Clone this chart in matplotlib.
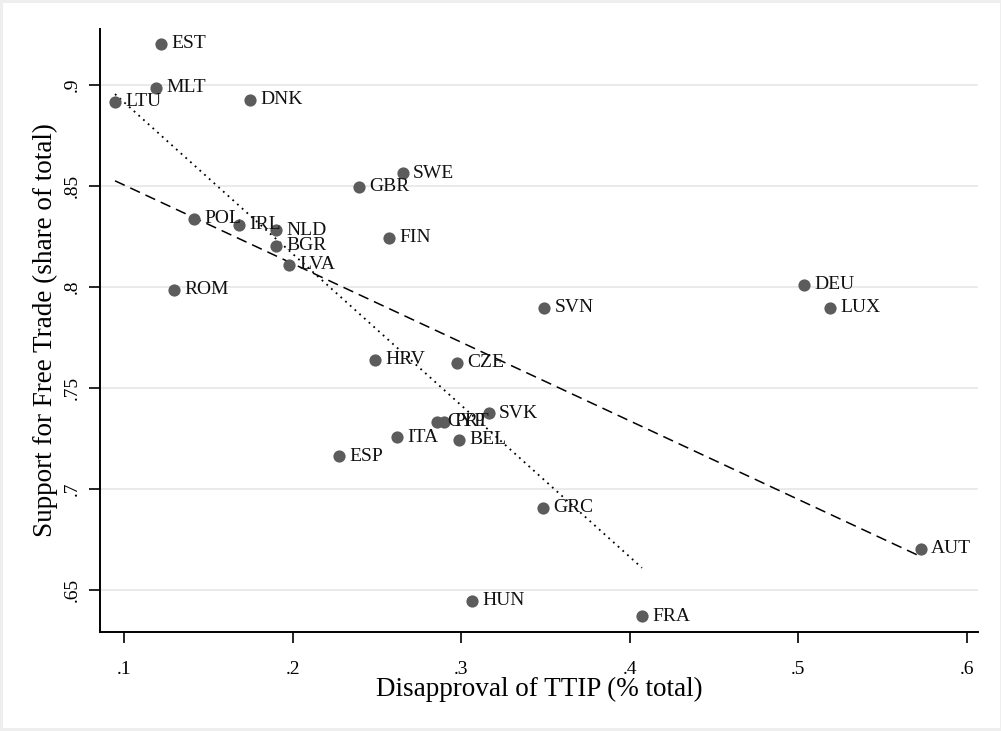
import numpy as np
import matplotlib
matplotlib.use("Agg")
import matplotlib.pyplot as plt
from matplotlib.patches import Rectangle

countries = ["EST", "MLT", "LTU", "DNK", "SWE", "GBR", "POL", "IRL", "NLD", "BGR",
             "LVA", "FIN", "ROM", "DEU", "LUX", "SVN", "HRV", "CZE", "SVK", "CYP",
             "PRT", "ITA", "BEL", "ESP", "GRC", "AUT", "HUN", "FRA"]
disapproval = [0.122, 0.119, 0.0947, 0.1748, 0.2656, 0.2395, 0.1415, 0.1682, 0.1902, 0.1902,
               0.1979, 0.2573, 0.1297, 0.5036, 0.5190, 0.3493, 0.2490, 0.2976, 0.3166, 0.2858,
               0.2899, 0.2620, 0.2988, 0.2276, 0.3487, 0.5724, 0.3065, 0.4072]
support = [0.9203, 0.8985, 0.8916, 0.8926, 0.8564, 0.8495, 0.8337, 0.8307, 0.8282, 0.8203,
           0.8109, 0.8243, 0.7985, 0.8010, 0.7896, 0.7896, 0.7639, 0.7624, 0.7376, 0.7332,
           0.7332, 0.7255, 0.7243, 0.7163, 0.6906, 0.6703, 0.6446, 0.6371]
excluded_from_dotted_fit = ["DEU", "LUX", "AUT"]

xticks = [0.1, 0.2, 0.3, 0.4, 0.5, 0.6]
xticklabels = [".1", ".2", ".3", ".4", ".5", ".6"]
yticks = [0.65, 0.7, 0.75, 0.8, 0.85, 0.9]
yticklabels = [".65", ".7", ".75", ".8", ".85", ".9"]

plt.rcParams['font.family'] = ['Liberation Serif', 'DejaVu Serif']

W, H = 1001, 731
fig = plt.figure(figsize=(W / 100, H / 100), dpi=100)
fig.patch.set_facecolor("#eeeeee")
fig.add_artist(Rectangle((3 / W, 3 / H), 1 - 4 / W, 1 - 6 / H, transform=fig.transFigure,
                         facecolor="white", edgecolor="none", zorder=0))

ax = fig.add_axes([100 / W, 1 - 632 / H, (978 - 100) / W, (632 - 29) / H])
ax.set_facecolor("white")

x = np.array(disapproval)
y = np.array(support)

# fit lines
b1, a1 = np.polyfit(x, y, 1)
xs = np.array([x.min(), x.max()])
ax.plot(xs, a1 + b1 * xs, color="black", lw=1.1, ls=(0, (7, 4)), zorder=2)

mask = np.array([c not in excluded_from_dotted_fit for c in countries])
b2, a2 = np.polyfit(x[mask], y[mask], 1)
xs2 = np.array([x[mask].min(), x[mask].max()])
ax.plot(xs2, a2 + b2 * xs2, color="black", lw=1.3, ls=(0, (1, 2.5)), zorder=2)

ax.plot(x, y, "o", color="#5c5c5c", ms=8.8, mec="none", zorder=3)
for c, xi, yi in zip(countries, x, y):
    ax.annotate(c, (xi, yi), xytext=(10, 0), textcoords="offset pixels",
                ha="left", va="center", fontsize=14, color="#111111", zorder=4)

ax.set_xlim(0.0858, 0.6065)
ax.set_ylim(0.6292, 0.9277)
ax.set_xticks(xticks)
ax.set_xticklabels(xticklabels)
ax.set_yticks(yticks)
ax.set_yticklabels(yticklabels, rotation=90, va="center")
ax.tick_params(axis="both", length=8, width=1.2, labelsize=14, color="black")
ax.tick_params(axis="x", pad=13)
ax.tick_params(axis="y", pad=6)
ax.grid(axis="y", color="#e6e6e6", lw=1.2)
ax.set_axisbelow(True)
for s in ["top", "right"]:
    ax.spines[s].set_visible(False)
for s in ["left", "bottom"]:
    ax.spines[s].set_linewidth(1.4)

ax.set_xlabel("Disapproval of TTIP (% total)", fontsize=19.5, labelpad=-1)
ax.set_ylabel("Support for Free Trade (share of total)", fontsize=19.5, labelpad=4)

fig.savefig("out.png", dpi=100, facecolor=fig.get_facecolor())
